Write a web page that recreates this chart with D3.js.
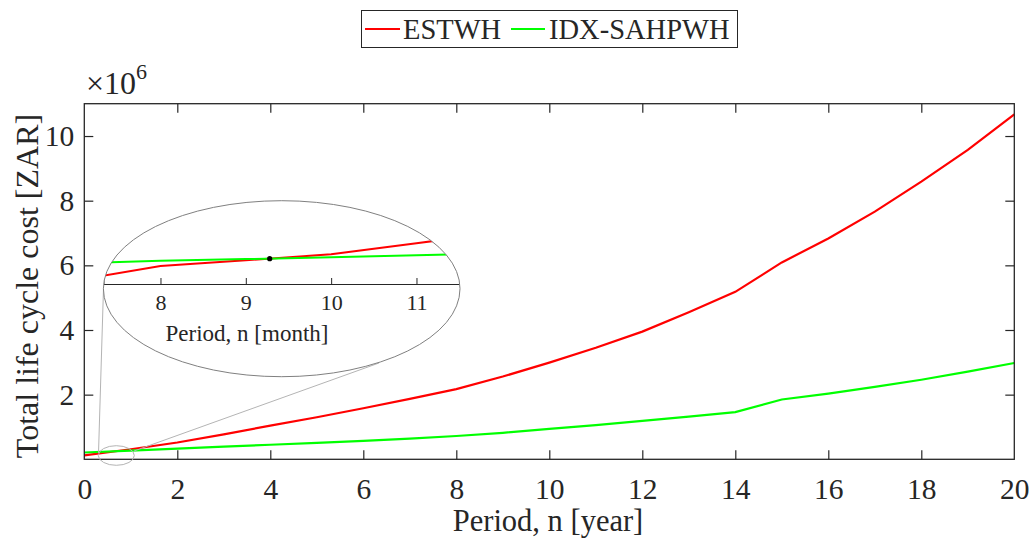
<!DOCTYPE html>
<html>
<head>
<meta charset="utf-8">
<script src="https://cdn.jsdelivr.net/npm/d3@7"></script>
<style>
  body { margin: 0; background: #fff; }
  svg { display: block; font-family: "Liberation Serif", "DejaVu Serif", serif; }
  text { fill: #262626; }
</style>
</head>
<body>
<svg id="chart" width="1032" height="543"></svg>
<script>
// values in millions of ZAR, one per year
var years = d3.range(0, 21);
var estwh = [0.12, 0.31, 0.52, 0.77, 1.04, 1.30, 1.58, 1.87, 2.17, 2.56, 2.99, 3.45, 3.95, 4.55, 5.18, 6.09, 6.83, 7.66, 8.59, 9.57, 10.67];
var idxSahpwh = [0.21, 0.27, 0.33, 0.39, 0.45, 0.51, 0.57, 0.64, 0.72, 0.82, 0.94, 1.06, 1.19, 1.32, 1.46, 1.85, 2.03, 2.24, 2.46, 2.71, 2.98];
var yTicks = [2, 4, 6, 8, 10];
var xTicks = [0, 2, 4, 6, 8, 10, 12, 14, 16, 18, 20];

// zoomed inset, monthly values in ZAR
var months = [7, 8, 9, 10, 11, 12];
var estwhMonthly = [156800, 186000, 197600, 209400, 231400, 254000];
var idxMonthly = [191000, 196600, 199800, 203400, 207400, 211200];
var insetTicks = [8, 9, 10, 11];
var breakEven = { month: 9.28, cost: 200600 };

var seriesNames = ["ESTWH", "IDX-SAHPWH"];
var seriesColors = ["#ff0000", "#00ff00"];

var svg = d3.select("#chart");
var plotLeft = 84.3, plotRight = 1014.3, plotTop = 103.7, plotBottom = 459.3;

var x = d3.scaleLinear().domain([0, 20]).range([plotLeft, plotRight]);
var y = d3.scaleLinear().domain([0, 11]).range([plotBottom, plotTop]);

// main lines
var line = d3.line()
  .x(function(d) { return x(d[0]); })
  .y(function(d) { return y(d[1]); });

var mainSeries = [estwh, idxSahpwh];
mainSeries.forEach(function(vals, i) {
  svg.append("path")
    .datum(years.map(function(yr, j) { return [yr, vals[j]]; }))
    .attr("d", line)
    .attr("fill", "none")
    .attr("stroke", seriesColors[i])
    .attr("stroke-width", 2.2);
});

// axes
var axisColor = "#262626";
var xAxis = svg.append("g").attr("transform", "translate(0," + plotBottom + ")")
  .call(d3.axisBottom(x).tickValues(xTicks).tickSize(0).tickPadding(19).tickFormat(d3.format("d")));
var xAxisTop = svg.append("g").attr("transform", "translate(0," + plotTop + ")")
  .call(d3.axisBottom(x).tickValues(xTicks.slice(1, -1)).tickSize(9).tickFormat(""));
var xAxisBot = svg.append("g").attr("transform", "translate(0," + plotBottom + ")")
  .call(d3.axisTop(x).tickValues(xTicks.slice(1, -1)).tickSize(9).tickFormat(""));
var yAxis = svg.append("g").attr("transform", "translate(" + plotLeft + ",0)")
  .call(d3.axisRight(y).tickValues(yTicks).tickSize(9).tickFormat(""));
var yAxisLabels = svg.append("g").attr("transform", "translate(" + plotLeft + ",0)")
  .call(d3.axisLeft(y).tickValues(yTicks).tickSize(0).tickPadding(10).tickFormat(d3.format("d")));
var yAxisRight = svg.append("g").attr("transform", "translate(" + plotRight + ",0)")
  .call(d3.axisLeft(y).tickValues(yTicks).tickSize(9).tickFormat(""));

[xAxis, xAxisTop, xAxisBot, yAxis, yAxisLabels, yAxisRight].forEach(function(g) {
  g.select(".domain").remove();
  g.selectAll("line").attr("stroke", axisColor).attr("stroke-width", 1.2);
  g.selectAll("text").attr("font-size", 29.5).attr("font-family", "Liberation Serif").attr("fill", axisColor);
});

svg.append("rect")
  .attr("x", plotLeft).attr("y", plotTop)
  .attr("width", plotRight - plotLeft).attr("height", plotBottom - plotTop)
  .attr("fill", "none").attr("stroke", axisColor).attr("stroke-width", 1.3);

// exponent label
var expo = svg.append("text").attr("x", 86).attr("y", 94).attr("font-size", 32);
expo.append("tspan").text("\u00d710");
expo.append("tspan").attr("font-size", 22).attr("dy", -15).text("6");

// axis titles
svg.append("text")
  .attr("x", 548).attr("y", 531)
  .attr("text-anchor", "middle").attr("font-size", 30.5)
  .text("Period, n [year]");
svg.append("text")
  .attr("transform", "translate(38,286) rotate(-90)")
  .attr("text-anchor", "middle").attr("font-size", 32)
  .text("Total life cycle cost [ZAR]");

// zoom marker and connectors
var small = { cx: 116.3, cy: 455.5, rx: 18, ry: 9.8 };
var big = { cx: 281.7, cy: 288.7, rx: 178.3, ry: 88 };

svg.append("line")
  .attr("x1", 98.5).attr("y1", 453).attr("x2", 103.5).attr("y2", 288)
  .attr("stroke", "#b4b4b4").attr("stroke-width", 1);
svg.append("line")
  .attr("x1", 134).attr("y1", 451).attr("x2", 379).attr("y2", 363)
  .attr("stroke", "#b4b4b4").attr("stroke-width", 1);
svg.append("ellipse")
  .attr("cx", small.cx).attr("cy", small.cy).attr("rx", small.rx).attr("ry", small.ry)
  .attr("fill", "none").attr("stroke", "#b4b4b4").attr("stroke-width", 1);

// inset
svg.append("defs").append("clipPath").attr("id", "insetClip")
  .append("ellipse")
  .attr("cx", big.cx).attr("cy", big.cy).attr("rx", big.rx).attr("ry", big.ry);

svg.append("ellipse")
  .attr("cx", big.cx).attr("cy", big.cy).attr("rx", big.rx).attr("ry", big.ry)
  .attr("fill", "#fff").attr("stroke", "none");

var xi = d3.scaleLinear().domain([7.33, 11.51]).range([103.3, 460]);
var yi = d3.scaleLinear().domain([150000, 310000]).range([284, 204]);
var inset = svg.append("g").attr("clip-path", "url(#insetClip)");

var insetLine = d3.line()
  .x(function(d) { return xi(d[0]); })
  .y(function(d) { return yi(d[1]); });

[estwhMonthly, idxMonthly].forEach(function(vals, i) {
  inset.append("path")
    .datum(months.map(function(m, j) { return [m, vals[j]]; }))
    .attr("d", insetLine)
    .attr("fill", "none")
    .attr("stroke", seriesColors[i])
    .attr("stroke-width", 2);
});

var insetAxis = inset.append("g").attr("transform", "translate(0,284)")
  .call(d3.axisTop(xi).tickValues(insetTicks).tickSize(6).tickFormat(""));
insetAxis.select(".domain").attr("stroke", axisColor).attr("stroke-width", 1.2);
insetAxis.selectAll("line").attr("stroke", axisColor).attr("stroke-width", 1);

var insetLabels = svg.append("g").attr("transform", "translate(0,284)")
  .call(d3.axisBottom(xi).tickValues(insetTicks).tickSize(0).tickPadding(10).tickFormat(d3.format("d")));
insetLabels.select(".domain").remove();
insetLabels.selectAll("text").attr("font-size", 22).attr("font-family", "Liberation Serif").attr("fill", axisColor);

svg.append("text")
  .attr("x", 247).attr("y", 341)
  .attr("text-anchor", "middle").attr("font-size", 23)
  .text("Period, n [month]");

svg.append("circle")
  .attr("cx", xi(breakEven.month)).attr("cy", yi(breakEven.cost))
  .attr("r", 2.6).attr("fill", "#000");

svg.append("ellipse")
  .attr("cx", big.cx).attr("cy", big.cy).attr("rx", big.rx).attr("ry", big.ry)
  .attr("fill", "none").attr("stroke", "#808080").attr("stroke-width", 1);

// legend
var legend = svg.append("g");
legend.append("rect")
  .attr("x", 361.5).attr("y", 10.5).attr("width", 376).attr("height", 37)
  .attr("fill", "#fff").attr("stroke", axisColor).attr("stroke-width", 1);
var legendX = [[365, 400, 403], [511, 545, 549]];
seriesNames.forEach(function(name, i) {
  legend.append("line")
    .attr("x1", legendX[i][0]).attr("x2", legendX[i][1])
    .attr("y1", 29).attr("y2", 29)
    .attr("stroke", seriesColors[i]).attr("stroke-width", 2);
  legend.append("text")
    .attr("x", legendX[i][2]).attr("y", 38.5)
    .attr("font-size", 28.5)
    .text(name);
});
</script>
</body>
</html>
